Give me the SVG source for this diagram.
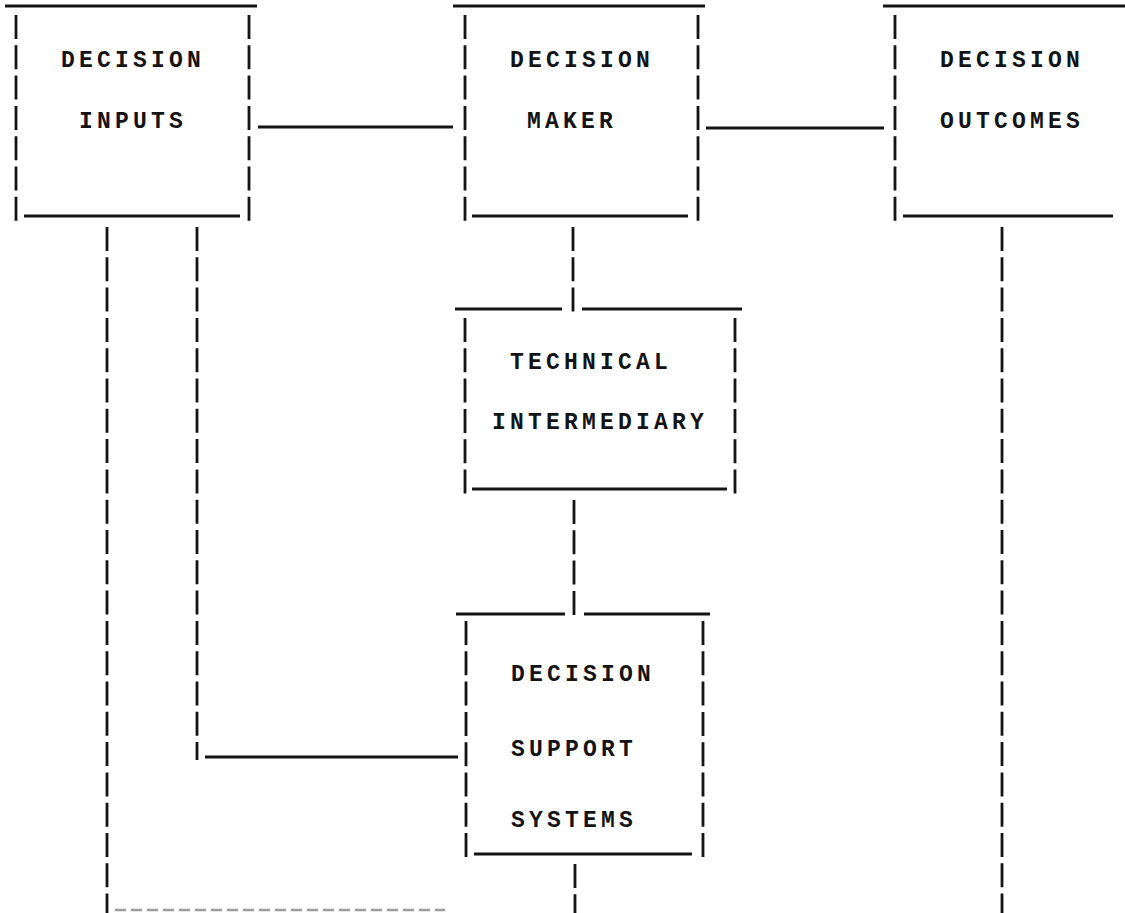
<svg xmlns="http://www.w3.org/2000/svg" width="1125" height="913" viewBox="0 0 1125 913">
<style>
  .u { stroke:#141414; stroke-width:3; fill:none; }
  .b { stroke:#141414; stroke-width:2.8; fill:none; stroke-dasharray:24 6.3; }
  .faint { stroke:#9a9a9a; stroke-width:2.5; fill:none; stroke-dasharray:11 5; }
  text { font-family:"Liberation Mono","Courier New",monospace; font-weight:bold; font-size:23px; letter-spacing:4.2px; fill:#141414; }
</style>
<rect width="1125" height="913" fill="#ffffff"/>
<g id="connectors">
  <line class="u" x1="258" y1="127" x2="453" y2="127"/>
  <line class="u" x1="706" y1="128" x2="884" y2="128"/>
  <line class="u" x1="205" y1="757" x2="458" y2="757"/>
  <line class="b" x1="573" y1="227" x2="573" y2="312"/>
  <line class="b" x1="574" y1="500" x2="574" y2="617"/>
  <line class="b" x1="575" y1="864" x2="575" y2="913"/>
  <line class="b" x1="107" y1="227" x2="107" y2="913"/>
  <line class="b" x1="197" y1="227" x2="197" y2="760"/>
  <line class="b" x1="1002" y1="227" x2="1002" y2="913"/>
  <line class="faint" x1="115" y1="910" x2="445" y2="910"/>
</g>
<g id="node-inputs">
  <line class="u" x1="5" y1="6" x2="257" y2="6"/>
  <line class="b" x1="16" y1="15" x2="16" y2="221"/>
  <line class="b" x1="249" y1="15" x2="249" y2="221"/>
  <line class="u" x1="24" y1="216" x2="240" y2="216"/>
  <text x="61" y="67">DECISION</text>
  <text x="79" y="128">INPUTS</text>
</g>
<g id="node-maker">
  <line class="u" x1="453" y1="6" x2="705" y2="6"/>
  <line class="b" x1="465" y1="15" x2="465" y2="221"/>
  <line class="b" x1="698" y1="15" x2="698" y2="221"/>
  <line class="u" x1="472" y1="216" x2="688" y2="216"/>
  <text x="510" y="67">DECISION</text>
  <text x="527" y="128">MAKER</text>
</g>
<g id="node-outcomes">
  <line class="u" x1="883" y1="6" x2="1125" y2="6"/>
  <line class="b" x1="895" y1="15" x2="895" y2="221"/>
  <line class="u" x1="903" y1="216" x2="1113" y2="216"/>
  <text x="940" y="67">DECISION</text>
  <text x="940" y="128">OUTCOMES</text>
</g>
<g id="node-technical">
  <line class="u" x1="455" y1="309" x2="562" y2="309"/>
  <line class="u" x1="582" y1="309" x2="742" y2="309"/>
  <line class="b" x1="465" y1="318" x2="465" y2="494"/>
  <line class="b" x1="735" y1="318" x2="735" y2="494"/>
  <line class="u" x1="472" y1="489" x2="727" y2="489"/>
  <text x="510" y="369">TECHNICAL</text>
  <text x="492" y="429">INTERMEDIARY</text>
</g>
<g id="node-dss">
  <line class="u" x1="456" y1="614" x2="565" y2="614"/>
  <line class="u" x1="584" y1="614" x2="710" y2="614"/>
  <line class="b" x1="466" y1="621" x2="466" y2="859"/>
  <line class="b" x1="703" y1="621" x2="703" y2="859"/>
  <line class="u" x1="474" y1="854" x2="692" y2="854"/>
  <text x="511" y="681">DECISION</text>
  <text x="511" y="756">SUPPORT</text>
  <text x="511" y="827">SYSTEMS</text>
</g>
</svg>
